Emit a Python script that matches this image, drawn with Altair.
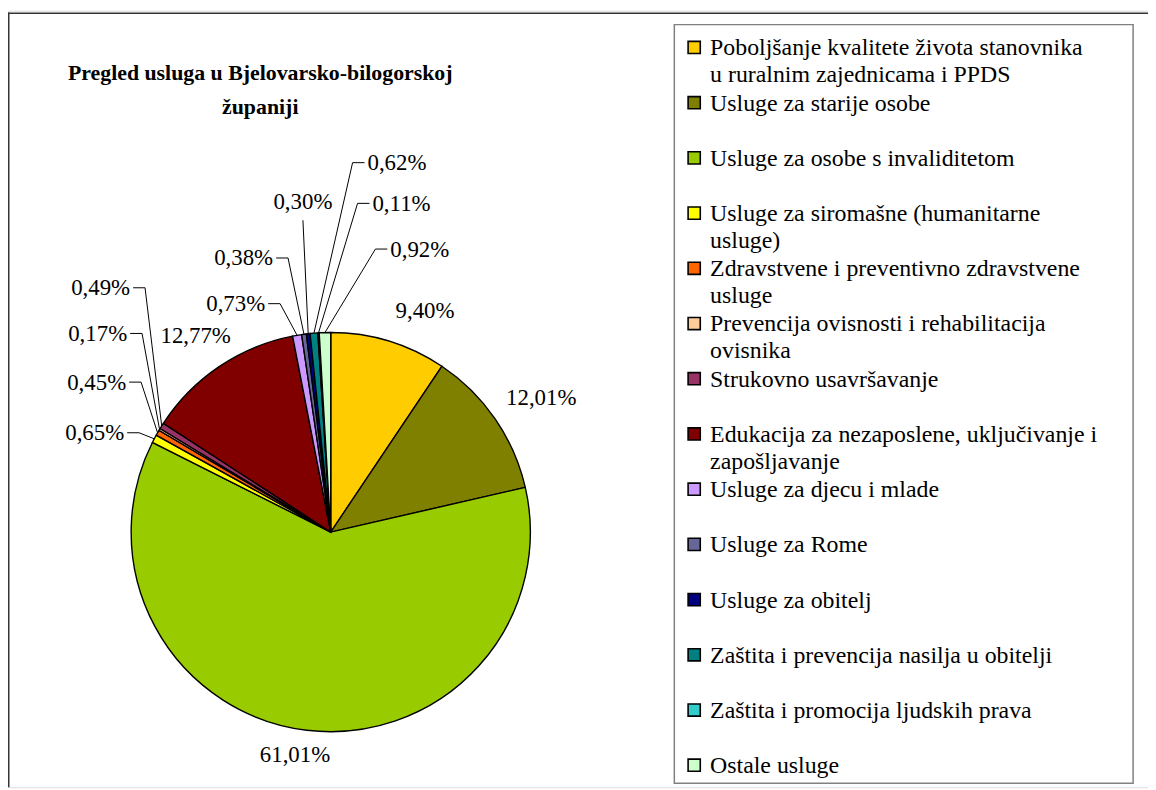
import math
import altair as alt
import pandas as pd

# ---------------- data ----------------
categories = [
    "Poboljšanje kvalitete života stanovnika u ruralnim zajednicama i PPDS",
    "Usluge za starije osobe",
    "Usluge za osobe s invaliditetom",
    "Usluge za siromašne (humanitarne usluge)",
    "Zdravstvene i preventivno zdravstvene usluge",
    "Prevencija ovisnosti i rehabilitacija ovisnika",
    "Strukovno usavršavanje",
    "Edukacija za nezaposlene, uključivanje i zapošljavanje",
    "Usluge za djecu i mlade",
    "Usluge za Rome",
    "Usluge za obitelj",
    "Zaštita i prevencija nasilja u obitelji",
    "Zaštita i promocija ljudskih prava",
    "Ostale usluge",
]
shares = [9.40, 12.01, 61.01, 0.65, 0.45, 0.17, 0.49, 12.77, 0.73, 0.38, 0.30, 0.62, 0.11, 0.92]
legend_lines = [
    ["Poboljšanje kvalitete života stanovnika", "u ruralnim zajednicama i PPDS"],
    ["Usluge za starije osobe"],
    ["Usluge za osobe s invaliditetom"],
    ["Usluge za siromašne (humanitarne", "usluge)"],
    ["Zdravstvene i preventivno zdravstvene", "usluge"],
    ["Prevencija ovisnosti i rehabilitacija", "ovisnika"],
    ["Strukovno usavršavanje"],
    ["Edukacija za nezaposlene, uključivanje i", "zapošljavanje"],
    ["Usluge za djecu i mlade"],
    ["Usluge za Rome"],
    ["Usluge za obitelj"],
    ["Zaštita i prevencija nasilja u obitelji"],
    ["Zaštita i promocija ljudskih prava"],
    ["Ostale usluge"],
]
title_lines = ["Pregled usluga u Bjelovarsko-bilogorskoj", "županiji"]

# ---------------- styles / layout ----------------
colors = ["#FFCC00", "#808000", "#99CC00", "#FFFF00", "#FF6600", "#FFCC99", "#993366",
          "#800000", "#CC99FF", "#666699", "#000080", "#008080", "#33CCCC", "#CCFFCC"]
W, H = 1148, 782           # drawing area (page minus 8px margin)
OFF = 8                    # page margin
CX, CY, R = 333, 533, 201  # pie centre / radius in page pixels
SERIF = "Times New Roman, Liberation Serif, serif"
LABEL_FS = 23
LEG_FS = 24
# label placement (mode, x, y-centre) in page pixels, one per slice
label_layout = [
    ("center", 428, 310),
    ("center", 545, 398),
    ("center", 297, 757),
    ("right", 125, 433),
    ("right", 127, 382),
    ("right", 128, 333),
    ("right", 131, 287),
    ("center", 197, 335),
    ("right", 267, 303),
    ("right", 275, 257),
    ("below", 305, 200),
    ("left", 370, 161),
    ("left", 375, 202),
    ("left", 393, 248),
]
LEG_Y0, LEG_STEP, LEG_LINE = 45, 55.6, 27
LEG_SQ_X, LEG_TXT_X = 699, 715

# ---------------- tables ----------------
pie_df = pd.DataFrame({"cat": categories, "value": shares, "idx": range(len(shares))})

total = sum(shares)
labels, lines = [], []
cum = 0.0
for i, v in enumerate(shares):
    mid = (cum + v / 2) / total * 2 * math.pi
    cum += v
    ex, ey = CX + R * math.sin(mid), CY - R * math.cos(mid)
    txt = f"{v:.2f}".replace(".", ",") + "%"
    mode, lx, ly = label_layout[i]
    align = {"center": "center", "below": "center", "right": "right", "left": "left"}[mode]
    labels.append({"text": txt, "px": lx - OFF, "py": ly + 7.5 - OFF, "align": align})
    pts = []
    if mode == "right":
        pts = [(lx + 3, ly), (lx + 15, ly), (ex, ey)]
    elif mode == "left":
        pts = [(lx - 3, ly), (lx - 15, ly), (ex, ey)]
    elif mode == "below":
        pts = [(lx, ly + 19), (ex, ey)]
    for k, (px, py) in enumerate(pts):
        lines.append({"lbl": txt + str(i), "pt": k, "px": px - OFF, "py": py - OFF})
label_df = pd.DataFrame(labels)
line_df = pd.DataFrame(lines)

leg_sq, leg_txt = [], []
for i, cat in enumerate(categories):
    yc = LEG_Y0 + LEG_STEP * i
    leg_sq.append({"cat": cat, "px": LEG_SQ_X - OFF, "py": yc - OFF})
    for j, t in enumerate(legend_lines[i]):
        leg_txt.append({"text": t, "px": LEG_TXT_X - OFF, "py": yc + j * LEG_LINE + 8 - OFF})
leg_sq_df = pd.DataFrame(leg_sq)
leg_txt_df = pd.DataFrame(leg_txt)

title_df = pd.DataFrame({"text": title_lines, "px": [262 - OFF] * 2, "py": [78 - OFF, 112 - OFF]})

xs = alt.Scale(domain=[0, W], nice=False, zero=False)
ys = alt.Scale(domain=[0, H], nice=False, zero=False, reverse=True)
X = alt.X("px:Q", scale=xs, axis=None)
Y = alt.Y("py:Q", scale=ys, axis=None)
color_scale = alt.Scale(domain=categories, range=colors)

one = pd.DataFrame({"a": [0]})
frame_top = alt.Chart(one).mark_rule(color="#333333", strokeWidth=1.5).encode(
    x=alt.value(0), x2=alt.value(W), y=alt.value(2.5))
frame_left = alt.Chart(one).mark_rule(color="#333333", strokeWidth=1.5).encode(
    x=alt.value(0.75), y=alt.value(2), y2=alt.value(H))

legend_box = alt.Chart(one).mark_rect(fillOpacity=0, stroke="#808080", strokeWidth=1.5).encode(
    x=alt.value(679 - OFF), x2=alt.value(1141 - OFF), y=alt.value(22 - OFF), y2=alt.value(786 - OFF))

pie = alt.Chart(pie_df).mark_arc(radius=R, stroke="black", strokeWidth=1.4).encode(
    theta=alt.Theta("value:Q", stack=True),
    color=alt.Color("cat:N", scale=color_scale, legend=None),
    order=alt.Order("idx:Q", sort="ascending"),
    x=alt.value(CX - OFF), y=alt.value(CY - OFF),
)

leaders = alt.Chart(line_df).mark_line(color="black", strokeWidth=1).encode(
    x=X, y=Y, detail="lbl:N", order="pt:Q")

def text_layer(align):
    return alt.Chart(label_df).transform_filter(alt.datum.align == align).mark_text(
        align=align, baseline="alphabetic", font=SERIF, fontSize=LABEL_FS, color="black"
    ).encode(x=X, y=Y, text="text:N")

leg_squares = alt.Chart(leg_sq_df).mark_square(size=150, opacity=1, stroke="black", strokeWidth=1.6).encode(
    x=X, y=Y, color=alt.Color("cat:N", scale=color_scale, legend=None))
leg_texts = alt.Chart(leg_txt_df).mark_text(
    align="left", baseline="alphabetic", font=SERIF, fontSize=LEG_FS, color="black"
).encode(x=X, y=Y, text="text:N")

title = alt.Chart(title_df).mark_text(
    align="center", baseline="alphabetic", font=SERIF, fontSize=22, fontWeight="bold", color="black"
).encode(x=X, y=Y, text="text:N")

chart = alt.layer(
    frame_top, frame_left, legend_box, pie, leaders,
    text_layer("center"), text_layer("right"), text_layer("left"),
    leg_squares, leg_texts, title,
).properties(
    width=W, height=H, padding=0, autosize=alt.AutoSizeParams(type="none")
).configure_view(stroke=None).configure(background="white")

chart.save("out.html", embed_options={"renderer": "svg", "actions": False})
